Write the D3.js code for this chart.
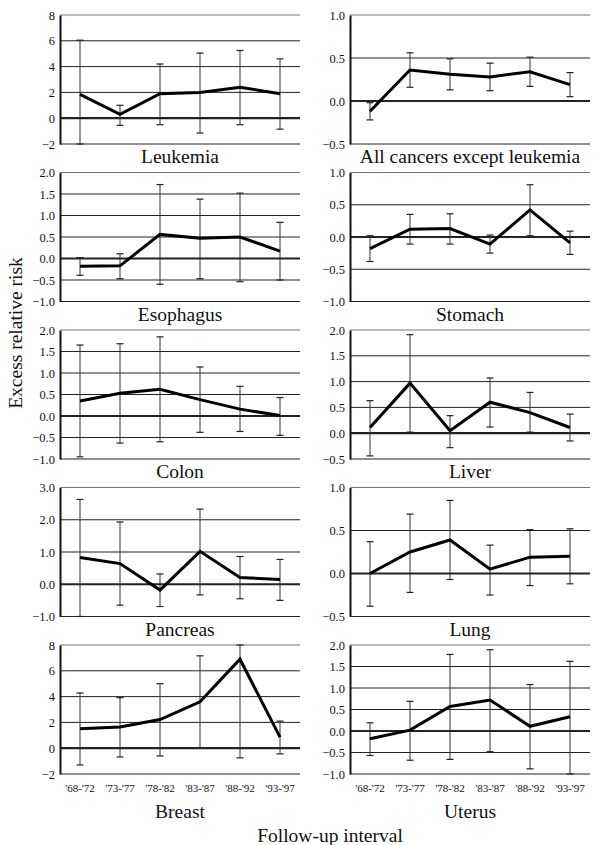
<!DOCTYPE html>
<html>
<head>
<meta charset="utf-8">
<script src="https://cdn.jsdelivr.net/npm/d3@7"></script>
<style>
  body { margin: 0; background: #fff; }
  svg { display: block; }
</style>
</head>
<body>
<div id="chart"></div>
<script>
// Follow-up intervals (x categories)
var intervals = ["'68-'72", "'73-'77", "'78-'82", "'83-'87", "'88-'92", "'93-'97"];

// Excess relative risk estimates and their confidence limits
var leukemiaRR = [1.85, 0.3, 1.9, 2.0, 2.4, 1.9];
var leukemiaLo = [-2.4, -0.55, -0.5, -1.15, -0.5, -0.85];
var leukemiaHi = [6.05, 1.0, 4.2, 5.05, 5.25, 4.6];

var allCancersRR = [-0.12, 0.36, 0.31, 0.28, 0.34, 0.19];
var allCancersLo = [-0.22, 0.16, 0.13, 0.12, 0.17, 0.05];
var allCancersHi = [-0.02, 0.56, 0.49, 0.44, 0.51, 0.33];

var esophagusRR = [-0.18, -0.17, 0.56, 0.47, 0.5, 0.17];
var esophagusLo = [-0.39, -0.47, -0.6, -0.47, -0.54, -0.5];
var esophagusHi = [0.02, 0.11, 1.72, 1.38, 1.52, 0.84];

var stomachRR = [-0.18, 0.12, 0.13, -0.11, 0.42, -0.09];
var stomachLo = [-0.38, -0.11, -0.11, -0.25, 0.02, -0.27];
var stomachHi = [0.02, 0.35, 0.36, 0.03, 0.81, 0.09];

var colonRR = [0.35, 0.53, 0.62, 0.38, 0.16, 0.01];
var colonLo = [-0.95, -0.63, -0.6, -0.38, -0.36, -0.45];
var colonHi = [1.65, 1.68, 1.84, 1.14, 0.69, 0.43];

var liverRR = [0.11, 0.97, 0.05, 0.6, 0.4, 0.11];
var liverLo = [-0.44, 0.02, -0.28, 0.12, 0.02, -0.15];
var liverHi = [0.63, 1.91, 0.34, 1.07, 0.79, 0.37];

var pancreasRR = [0.83, 0.64, -0.18, 1.02, 0.21, 0.15];
var pancreasLo = [-1.0, -0.65, -0.69, -0.33, -0.45, -0.5];
var pancreasHi = [2.63, 1.93, 0.32, 2.33, 0.86, 0.77];

var lungRR = [0.0, 0.25, 0.39, 0.05, 0.19, 0.2];
var lungLo = [-0.38, -0.22, -0.07, -0.25, -0.14, -0.12];
var lungHi = [0.37, 0.69, 0.85, 0.33, 0.51, 0.52];

var breastRR = [1.5, 1.64, 2.22, 3.6, 6.9, 0.86];
var breastLo = [-1.3, -0.68, -0.6, 0.05, -0.75, -0.44];
var breastHi = [4.28, 3.92, 5.0, 7.16, 8.6, 2.1];

var uterusRR = [-0.18, 0.02, 0.57, 0.72, 0.11, 0.33];
var uterusLo = [-0.57, -0.68, -0.66, -0.48, -0.88, -1.0];
var uterusHi = [0.19, 0.69, 1.78, 1.89, 1.08, 1.62];

var panelNames = ["Leukemia", "All cancers except leukemia", "Esophagus", "Stomach",
  "Colon", "Liver", "Pancreas", "Lung", "Breast", "Uterus"];

// y tick values of each panel (first and last give the domain)
var panelTicks = [
  [-2, 0, 2, 4, 6, 8],
  [-0.5, 0, 0.5, 1.0],
  [-1.0, -0.5, 0, 0.5, 1.0, 1.5, 2.0],
  [-1.0, -0.5, 0, 0.5, 1.0],
  [-1.0, -0.5, 0, 0.5, 1.0, 1.5, 2.0],
  [-0.5, 0, 0.5, 1.0, 1.5, 2.0],
  [-1.0, 0, 1.0, 2.0, 3.0],
  [-0.5, 0, 0.5, 1.0],
  [-2, 0, 2, 4, 6, 8],
  [-1.0, -0.5, 0, 0.5, 1.0, 1.5, 2.0]
];
var tickFormats = ["d", ".1f", ".1f", ".1f", ".1f", ".1f", ".1f", ".1f", "d", ".1f"];

var panelRR = [leukemiaRR, allCancersRR, esophagusRR, stomachRR, colonRR, liverRR, pancreasRR, lungRR, breastRR, uterusRR];
var panelLo = [leukemiaLo, allCancersLo, esophagusLo, stomachLo, colonLo, liverLo, pancreasLo, lungLo, breastLo, uterusLo];
var panelHi = [leukemiaHi, allCancersHi, esophagusHi, stomachHi, colonHi, liverHi, pancreasHi, lungHi, breastHi, uterusHi];

var W = 600, H = 845;
var colLeft = [60, 350], colWidth = 240;
var rowTop = 15, rowStep = 157.5, plotH = 129;
var FONT = '"Liberation Serif", "Times New Roman", serif';

var svg = d3.select('#chart').append('svg')
  .attr('width', W).attr('height', H)
  .style('font-family', FONT);

panelNames.forEach(function(name, i) {
  var col = i % 2, row = Math.floor(i / 2);
  var x0 = colLeft[col], y0 = rowTop + row * rowStep;
  var ticks = panelTicks[i];

  var x = d3.scaleBand().domain(intervals).range([0, colWidth]);
  var y = d3.scaleLinear().domain([ticks[0], ticks[ticks.length - 1]])
    .range([plotH, 0]).clamp(true);
  var cx = function(k) { return x(intervals[k]) + x.bandwidth() / 2; };

  var g = svg.append('g').attr('transform', 'translate(' + x0 + ',' + y0 + ')');

  // horizontal grid lines at each tick
  g.selectAll('.grid').data(ticks).enter().append('line')
    .attr('x1', 0).attr('x2', colWidth)
    .attr('y1', function(d) { return y(d); }).attr('y2', function(d) { return y(d); })
    .attr('stroke', function(d, j) { return j === ticks.length - 1 ? '#777' : '#222'; })
    .attr('stroke-width', function(d) { return d === 0 ? 2.2 : 1; });

  // y axis with labels
  var yAxis = d3.axisLeft(y).tickValues(ticks).tickFormat(d3.format(tickFormats[i]))
    .tickSize(0).tickPadding(5);
  var ax = g.append('g').call(yAxis).attr('font-family', null);
  ax.select('.domain').attr('stroke', '#111').attr('stroke-width', 2);
  ax.selectAll('text').style('font-family', FONT).style('font-size', '12.5px').attr('fill', '#111');

  // error bars
  var bars = g.selectAll('.err').data(intervals).enter().append('g');
  bars.append('line')
    .attr('x1', function(d, k) { return cx(k); }).attr('x2', function(d, k) { return cx(k); })
    .attr('y1', function(d, k) { return y(panelLo[i][k]); })
    .attr('y2', function(d, k) { return y(panelHi[i][k]); })
    .attr('stroke', '#333').attr('stroke-width', 1);
  [panelLo[i], panelHi[i]].forEach(function(vals) {
    bars.append('line')
      .attr('x1', function(d, k) { return cx(k) - 3.5; })
      .attr('x2', function(d, k) { return cx(k) + 3.5; })
      .attr('y1', function(d, k) { return y(vals[k]); })
      .attr('y2', function(d, k) { return y(vals[k]); })
      .attr('stroke', '#222').attr('stroke-width', 1.2);
  });

  // estimate line
  var line = d3.line()
    .x(function(d, k) { return cx(k); })
    .y(function(d) { return y(d); });
  g.append('path').datum(panelRR[i])
    .attr('d', line)
    .attr('fill', 'none').attr('stroke', '#000')
    .attr('stroke-width', 3).attr('stroke-linejoin', 'miter');

  var isBottom = row === 4;
  if (isBottom) {
    var xAxis = d3.axisBottom(x).tickSize(0).tickPadding(10.5);
    var xa = g.append('g').attr('transform', 'translate(0,' + plotH + ')').call(xAxis)
      .attr('font-family', null);
    xa.select('.domain').remove();
    xa.selectAll('text').style('font-family', FONT).style('font-size', '11px').attr('fill', '#111');
  }

  // panel title
  g.append('text')
    .attr('x', colWidth / 2)
    .attr('y', plotH + (isBottom ? 44 : 19))
    .attr('text-anchor', 'middle')
    .style('font-family', FONT)
    .style('font-size', '19.5px')
    .attr('fill', '#111')
    .text(name);
});

// shared axis titles
svg.append('text')
  .attr('transform', 'translate(22,333) rotate(-90)')
  .attr('text-anchor', 'middle')
  .style('font-family', FONT)
  .style('font-size', '19.5px')
  .attr('fill', '#111')
  .text('Excess relative risk');

svg.append('text')
  .attr('x', 330).attr('y', 842)
  .attr('text-anchor', 'middle')
  .style('font-family', FONT)
  .style('font-size', '19.5px')
  .attr('fill', '#111')
  .text('Follow-up interval');
</script>
</body>
</html>
